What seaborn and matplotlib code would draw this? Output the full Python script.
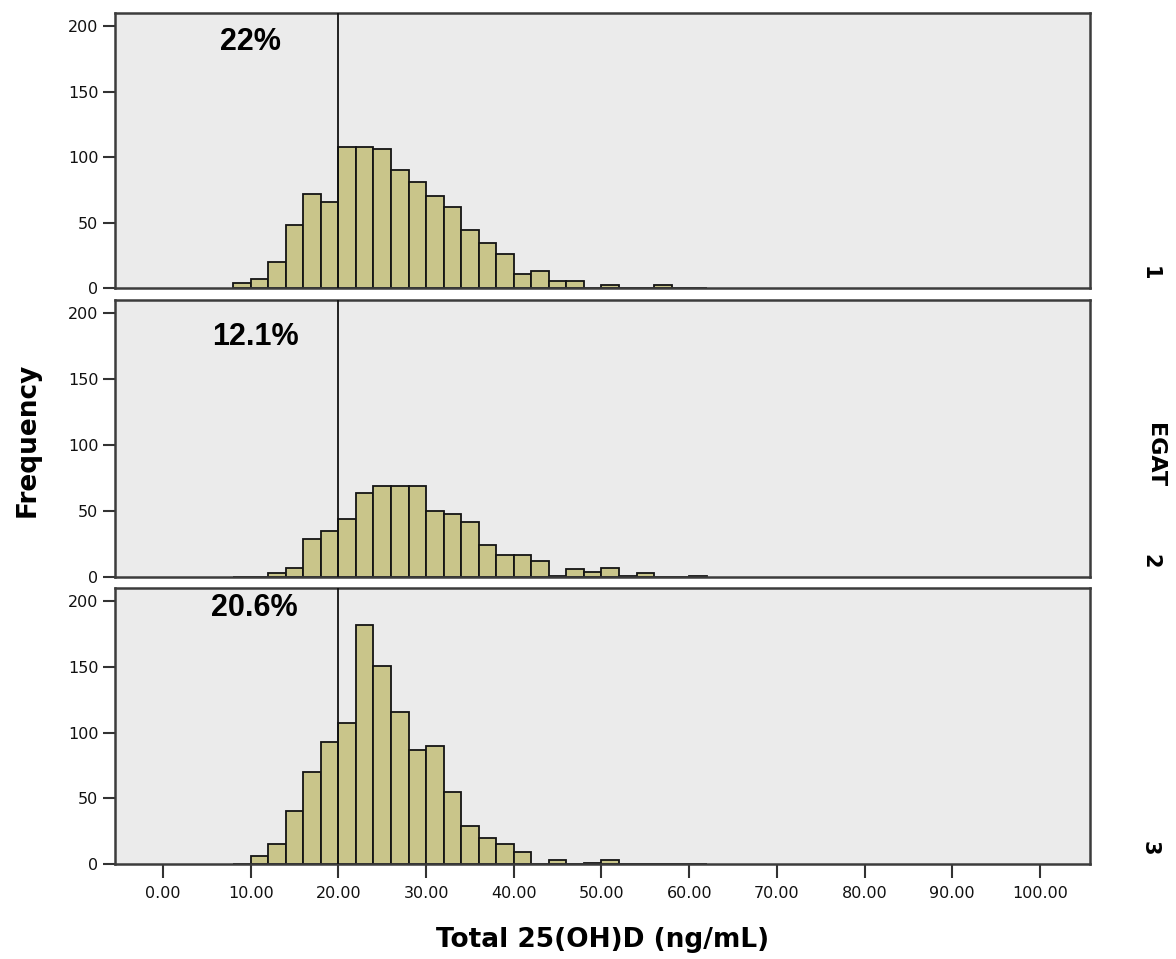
import numpy as np
import pandas as pd
import matplotlib
matplotlib.use("Agg")
import matplotlib.pyplot as plt
import seaborn as sns

# ---- data ----
bin_starts = list(range(8, 62, 2))  # 8,10,...,60 ; bin width 2
counts_1 = [4, 7, 20, 48, 72, 66, 108, 108, 106, 90, 81, 70, 62, 44, 34, 26, 11, 13, 5, 5, 0, 2, 0, 0, 2, 0, 0]
counts_2 = [0, 0, 3, 7, 29, 35, 44, 64, 69, 69, 69, 50, 48, 42, 24, 17, 17, 12, 1, 6, 4, 7, 1, 3, 0, 0, 1]
counts_3 = [0, 6, 15, 40, 70, 93, 107, 182, 151, 116, 87, 90, 55, 29, 20, 15, 9, 0, 3, 0, 1, 3, 0, 0, 0, 0, 0]
groups = ["1", "2", "3"]
percent_labels = ["22%", "12.1%", "20.6%"]
cutoff = 20
x_ticks = [0, 10, 20, 30, 40, 50, 60, 70, 80, 90, 100]
x_tick_labels = ["0.00", "10.00", "20.00", "30.00", "40.00", "50.00", "60.00",
                 "70.00", "80.00", "90.00", "100.00"]
y_ticks = [0, 50, 100, 150, 200]
x_label = "Total 25(OH)D (ng/mL)"
y_label = "Frequency"
facet_label = "EGAT"

sns.set_style("white")
plt.rcParams["font.family"] = ["DejaVu Sans"]

fig = plt.figure(figsize=(11.76, 9.59), dpi=100)

left, width = 115 / 1176, 975 / 1176
panel_px = [(13, 288), (300, 577), (588, 864)]
text_pos = [(0.1385, 0.896), (0.1436, 0.866), (0.143, 0.926)]
group_label_y = [273, 561, 848]

bar_color = "#C9C58A"
edge_color = "#141414"
bg_color = "#EBEBEB"
spine_color = "#3C3C3C"

edges = [float(b) for b in bin_starts] + [float(bin_starts[-1] + 2)]

for i, (counts, (top, bot)) in enumerate(zip([counts_1, counts_2, counts_3], panel_px)):
    df = pd.DataFrame({"value": [b + 1.0 for b in bin_starts], "n": counts})
    ax = fig.add_axes([left, 1 - bot / 959, width, (bot - top) / 959])
    ax.set_facecolor(bg_color)
    sns.histplot(data=df, x="value", weights="n", bins=edges, ax=ax,
                 color=bar_color, edgecolor=edge_color, linewidth=1.3, alpha=1.0)
    ax.axvline(cutoff, color="#111111", lw=1.3, zorder=5)
    ax.set_xlim(-5.47, 105.7)
    ax.set_ylim(0, 210)
    ax.set_yticks(y_ticks)
    ax.set_yticklabels([str(t) for t in y_ticks], fontsize=11.5, color="#111111")
    ax.set_ylabel("")
    ax.set_xlabel("")
    ax.tick_params(axis="y", direction="out", length=9, width=1.5, color="#333333", pad=3, left=True)
    for s in ax.spines.values():
        s.set_color(spine_color)
        s.set_linewidth(1.8)
        s.set_visible(True)
    ax.text(text_pos[i][0], text_pos[i][1], percent_labels[i], transform=ax.transAxes,
            ha="center", va="center", fontsize=22, fontweight="bold",
            family=["Liberation Sans"], color="black")
    if i < 2:
        ax.set_xticks([])
    else:
        ax.set_xticks(x_ticks)
        ax.set_xticklabels(x_tick_labels, fontsize=11.5, color="#111111")
        ax.tick_params(axis="x", direction="out", length=10, width=1.5, color="#333333", pad=6, bottom=True)
    fig.text(1150 / 1176, 1 - group_label_y[i] / 959, groups[i], rotation=270,
             ha="center", va="center", fontsize=15, fontweight="bold", color="black")

fig.text(28 / 1176, 1 - 440 / 959, y_label, rotation=90, ha="center", va="center",
         fontsize=19, fontweight="bold", color="black")
fig.text(1155 / 1176, 1 - 455 / 959, facet_label, rotation=270, ha="center", va="center",
         fontsize=16, fontweight="bold", color="black")
fig.text(603 / 1176, 1 - 940 / 959, x_label, ha="center", va="center",
         fontsize=19, fontweight="bold", color="black")

fig.savefig("out.png", dpi=100, facecolor="white")
